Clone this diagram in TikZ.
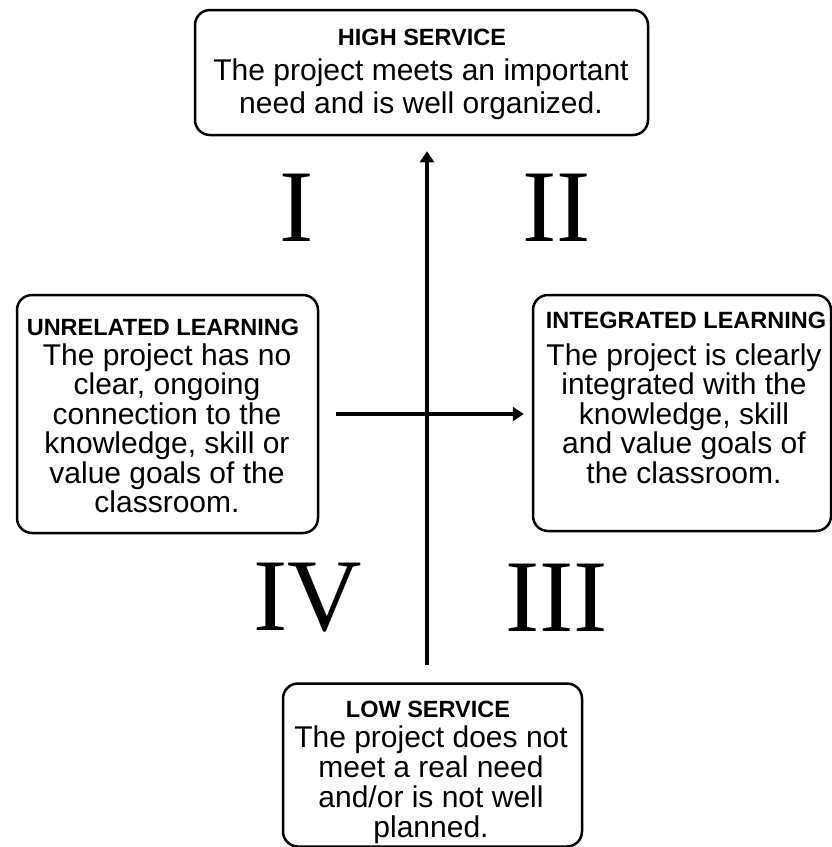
\documentclass[tikz,border=0pt]{standalone}
\usepackage{fontspec}
\setmainfont{Liberation Sans}
\newfontfamily\numfont{Liberation Serif}
\usetikzlibrary{arrows.meta}
\begin{document}
\begin{tikzpicture}[x=1pt,y=-1pt,
  box/.style={draw=black, line width=2.5pt, rounded corners=15pt, inner sep=0pt},
  ttl/.style={anchor=base, inner sep=0pt, font=\bfseries\fontsize{23.5}{26}\selectfont},
  body/.style={anchor=base, inner sep=0pt, align=center, font=\fontsize{30}{29.5}\selectfont},
  numeral/.style={inner sep=0pt, font=\numfont\fontsize{103}{110}\selectfont},
  axis/.style={line width=4pt, -{Triangle[length=11pt,width=14pt]}}]
\useasboundingbox (0,0) rectangle (832,847);
% boxes
\node[box, minimum width=453pt, minimum height=125pt] (high) at (421.5,72.5) {};
\node[box, minimum width=301pt, minimum height=238pt] (unrel) at (167.5,414) {};
\node[box, minimum width=298pt, minimum height=236pt] (integ) at (682,413) {};
\node[box, minimum width=299pt, minimum height=163pt] (low) at (432.5,765) {};
% texts (body nodes anchored at the baseline of their last line)
\node[ttl] (hight) at (422,45) {HIGH SERVICE};
\node[body, font=\fontsize{30}{33}\selectfont] (highb) at (421,113) {The project meets an important\\need and is well organized.};
\node[ttl] (unrelt) at (163,335) {UNRELATED LEARNING};
\node[body] (unrelb) at (167,512.5) {The project has no\\clear, ongoing\\connection to the\\knowledge, skill or\\value goals of the\\classroom.};
\node[ttl] (integt) at (686,328) {INTEGRATED LEARNING};
\node[body] (integb) at (684,483) {The project is clearly\\integrated with the\\knowledge, skill\\and value goals of\\the classroom.};
\node[ttl] (lowt) at (428,717) {LOW SERVICE};
\node[body, font=\fontsize{30}{29.7}\selectfont] (lowb) at (431,837) {The project does not\\meet a real need\\and/or is not well\\planned.};
% numerals
\node[numeral] (q1) at (297,208) {I};
\node[numeral] (q2) at (556.5,208) {II};
\node[numeral] (q3) at (556.5,598) {III};
\node[numeral] (q4) at (307.5,598) {IV};
% axes
\coordinate (vbot) at (427,665);
\draw[axis, shorten >=15pt] (vbot) -- (vbot |- high.south);
\draw[axis, shorten <=17pt, shorten >=8pt] (unrel.east) -- (unrel.east -| integ.west);
\end{tikzpicture}
\end{document}
